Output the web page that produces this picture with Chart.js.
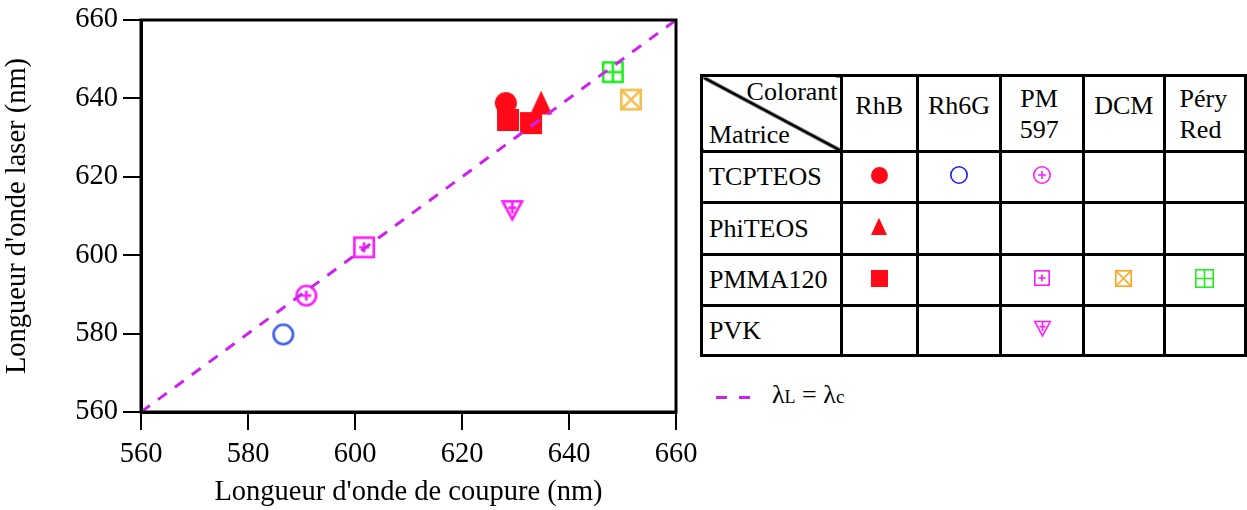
<!DOCTYPE html>
<html>
<head>
<meta charset="utf-8">
<script src="https://cdn.jsdelivr.net/npm/chart.js@4.4.1/dist/chart.umd.min.js"></script>
<style>
  html, body { margin: 0; padding: 0; background: #fff; }
  body { width: 1247px; height: 510px; position: relative; overflow: hidden;
         font-family: 'Liberation Serif', 'Times New Roman', serif; color: #000; }
  #chart { position: absolute; left: 0; top: 0; }
  #dyeTable { position: absolute; left: 700px; top: 74px; border-collapse: collapse;
              table-layout: fixed; font-size: 26px; }
  #dyeTable td { border: 3px solid #000; padding: 0; position: relative; }
  #dyeTable td.rowName { text-align: left; padding-left: 6px; vertical-align: middle; }
  #dyeTable td.mark { text-align: center; vertical-align: middle; }
  #dyeTable td.mark canvas { display: block; margin: -4px auto 0 auto; }
  #dyeTable td.head { vertical-align: top; text-align: center; line-height: 31px; }
  #legend { position: absolute; left: 716px; top: 377px; font-size: 26px; line-height: 36px; white-space: nowrap; }
  #legend .dash { display: inline-block; width: 11px; height: 3px; background: #d020f0;
                  vertical-align: middle; margin-right: 12px; }
</style>
</head>
<body>
<canvas id="chart" width="700" height="510"></canvas>
<table id="dyeTable"></table>
<div id="legend"><span class="dash"></span><span class="dash"></span><span style="margin-left:10px">λ<span style="font-size:18px">L</span> = λ<span style="font-size:19px">c</span></span></div>
<script>
// axis range
const axisMin = 560;
const axisMax = 660;
const axisStep = 20;

const dyes = ['RhB', 'Rh6G', 'PM 597', 'DCM', 'Péry Red'];
const matrices = ['TCPTEOS', 'PhiTEOS', 'PMMA120', 'PVK'];

// [cut-off wavelength, laser wavelength] in nm
const rhbTcpteos = [[628.2, 638.8]];
const rhbPhiteos = [[634.8, 638.7]];
const rhbPmma = [[628.6, 634.5], [632.9, 633.7]];
const rh6gTcpteos = [[586.6, 579.8]];
const pm597Tcpteos = [[590.9, 589.7]];
const pm597Pmma = [[601.7, 602.0]];
const pm597Pvk = [[629.4, 611.5]];
const dcmPmma = [[651.6, 639.7]];
const peryPmma = [[648.2, 646.7]];
const diagonal = [[560, 560], [660, 660]];

const series = [
  { dye: 'RhB', matrix: 'TCPTEOS', pts: rhbTcpteos, kind: 'disc', color: '#ff0a18', tcolor: '#ff0a18' },
  { dye: 'RhB', matrix: 'PhiTEOS', pts: rhbPhiteos, kind: 'tri', color: '#ff0a18', tcolor: '#ff0a18' },
  { dye: 'RhB', matrix: 'PMMA120', pts: rhbPmma, kind: 'sq', color: '#ff0a18', tcolor: '#ff0a18' },
  { dye: 'Rh6G', matrix: 'TCPTEOS', pts: rh6gTcpteos, kind: 'ring', color: '#3a5cec', tcolor: '#1a1aff' },
  { dye: 'PM 597', matrix: 'TCPTEOS', pts: pm597Tcpteos, kind: 'ringPlus', color: '#ff1aff', tcolor: '#ff1aff' },
  { dye: 'PM 597', matrix: 'PMMA120', pts: pm597Pmma, kind: 'sqPlus', color: '#ff1aff', tcolor: '#ff1aff' },
  { dye: 'PM 597', matrix: 'PVK', pts: pm597Pvk, kind: 'triDownPlus', color: '#ff1aff', tcolor: '#ff1aff' },
  { dye: 'DCM', matrix: 'PMMA120', pts: dcmPmma, kind: 'sqX', color: '#f6bd4e', tcolor: '#ffa51a' },
  { dye: 'Péry Red', matrix: 'PMMA120', pts: peryPmma, kind: 'sqGrid', color: '#22ee22', tcolor: '#22ee22' }
];

function drawMarker(ctx, kind, cx, cy, r, color, lw) {
  ctx.strokeStyle = color;
  ctx.fillStyle = color;
  ctx.lineWidth = lw;
  ctx.lineCap = 'butt';
  const plus = (x, y, a) => {
    ctx.beginPath();
    ctx.moveTo(x - a, y); ctx.lineTo(x + a, y);
    ctx.moveTo(x, y - a); ctx.lineTo(x, y + a);
    ctx.stroke();
  };
  const s = r - lw / 2;
  switch (kind) {
    case 'disc':
      ctx.beginPath(); ctx.arc(cx, cy, r, 0, Math.PI * 2); ctx.fill();
      break;
    case 'ring':
      ctx.beginPath(); ctx.arc(cx, cy, s, 0, Math.PI * 2); ctx.stroke();
      break;
    case 'ringPlus':
      ctx.beginPath(); ctx.arc(cx, cy, s, 0, Math.PI * 2); ctx.stroke();
      plus(cx, cy, r * 0.45);
      break;
    case 'tri':
      ctx.beginPath();
      ctx.moveTo(cx, cy - r * 1.15); ctx.lineTo(cx + r, cy + r * 1.0); ctx.lineTo(cx - r, cy + r * 1.0);
      ctx.closePath(); ctx.fill();
      break;
    case 'sq':
      ctx.fillRect(cx - r, cy - r, 2 * r, 2 * r);
      break;
    case 'sqPlus':
      ctx.strokeRect(cx - s, cy - s, 2 * s, 2 * s);
      plus(cx, cy, r * 0.45);
      break;
    case 'sqX':
      ctx.strokeRect(cx - s, cy - s, 2 * s, 2 * s);
      ctx.beginPath();
      ctx.moveTo(cx - s, cy - s); ctx.lineTo(cx + s, cy + s);
      ctx.moveTo(cx + s, cy - s); ctx.lineTo(cx - s, cy + s);
      ctx.stroke();
      break;
    case 'sqGrid':
      ctx.strokeRect(cx - s, cy - s, 2 * s, 2 * s);
      plus(cx, cy, s);
      break;
    case 'triDownPlus': {
      const top = cy - s * 0.9, bot = cy + s * 0.95;
      ctx.beginPath();
      ctx.moveTo(cx - s, top); ctx.lineTo(cx + s, top); ctx.lineTo(cx, bot);
      ctx.closePath(); ctx.stroke();
      ctx.beginPath();
      ctx.moveTo(cx, top); ctx.lineTo(cx, cy + s * 0.35);
      ctx.moveTo(cx - s * 0.4, cy - s * 0.25); ctx.lineTo(cx + s * 0.4, cy - s * 0.25);
      ctx.stroke();
      break;
    }
  }
}

function makeMarker(kind, color, size, lw) {
  const pad = Math.ceil(lw) + 1;
  const c = document.createElement('canvas');
  c.width = c.height = size + 2 * pad;
  drawMarker(c.getContext('2d'), kind, c.width / 2, c.height / 2, size / 2, color, lw);
  return c;
}

const serif = "'Liberation Serif', 'Times New Roman', serif";

const datasets = series.map(s => ({
  label: s.dye + ' / ' + s.matrix,
  data: s.pts.map(p => ({ x: p[0], y: p[1] })),
  pointStyle: makeMarker(s.kind, s.color, 22, 2.6),
  pointRadius: 11,
  order: 1
}));
datasets.push({
  type: 'line',
  label: 'λL = λc',
  data: diagonal.map(p => ({ x: p[0], y: p[1] })),
  borderColor: '#d020f0',
  borderWidth: 3,
  borderDash: [11, 10],
  pointRadius: 0,
  fill: false,
  order: 0
});

const frame = {
  id: 'frame',
  afterDraw(chart) {
    const a = chart.chartArea, ctx = chart.ctx;
    ctx.save();
    ctx.strokeStyle = '#000';
    ctx.lineWidth = 3;
    ctx.strokeRect(a.left, a.top, a.right - a.left, a.bottom - a.top);
    ctx.restore();
  }
};

function axis(titleText, fit, tickPad) {
  return {
    type: 'linear',
    min: axisMin,
    max: axisMax,
    ticks: { stepSize: axisStep, color: '#000', font: { family: serif, size: 28.5 }, padding: tickPad },
    grid: { drawOnChartArea: false, drawTicks: true, tickLength: 18, color: '#000', lineWidth: 2 },
    border: { display: true, color: '#000', width: 3 },
    title: { display: true, text: titleText, color: '#000', font: { family: serif, size: 28.5 }, padding: { top: 0, bottom: 0 } },
    afterFit: fit
  };
}

new Chart(document.getElementById('chart'), {
  type: 'scatter',
  data: { datasets },
  options: {
    responsive: false,
    animation: false,
    devicePixelRatio: 1,
    layout: { padding: { top: 20, right: 24, left: 0, bottom: 0 } },
    plugins: { legend: { display: false }, tooltip: { enabled: false } },
    scales: {
      x: axis("Longueur d'onde de coupure (nm)", s => {
        s.height = 98; s.paddingLeft = 0; s.paddingRight = 0;
      }, 7),
      y: axis("Longueur d'onde laser (nm)", s => {
        s.width = 141; s.paddingTop = 0; s.paddingBottom = 0;
      }, 5)
    }
  },
  plugins: [frame]
});

// table of dyes / matrices with their markers
const colWidths = [140, 77, 84, 84, 81, 82];
const rowHeights = [76, 51, 52, 51, 50];
const table = document.getElementById('dyeTable');
let html = '<colgroup>' + colWidths.map(w => '<col style="width:' + w + 'px">').join('') + '</colgroup>';
html += '<tr style="height:' + rowHeights[0] + 'px">';
html += '<td style="background:linear-gradient(to bottom left, transparent calc(50% - 2px), #000 calc(50% - 1.2px), #000 calc(50% + 1.2px), transparent calc(50% + 2px))">' +
        '<span style="position:absolute;right:2px;top:2px;line-height:26px">Colorant</span>' +
        '<span style="position:absolute;left:6px;bottom:0px;line-height:30px">Matrice</span></td>';
dyes.forEach(d => {
  const parts = d.split(' ');
  if (parts.length > 1) {
    const align = d === 'Péry Red' ? 'text-align:left;padding-left:14px;' : 'padding-right:6px;';
    html += '<td class="head" style="padding-top:6px;' + align + '">' + parts.join('<br>') + '</td>';
  } else {
    html += '<td class="head" style="padding-top:13px">' + d + '</td>';
  }
});
html += '</tr>';
matrices.forEach((m, i) => {
  html += '<tr style="height:' + rowHeights[i + 1] + 'px"><td class="rowName">' + m + '</td>';
  dyes.forEach((d, j) => html += '<td class="mark" id="cell-' + i + '-' + j + '"></td>');
  html += '</tr>';
});
table.innerHTML = html;

const tableSizes = { disc: 17, ring: 18, ringPlus: 18, tri: 16, sq: 17, sqPlus: 16, sqX: 17, sqGrid: 19, triDownPlus: 17 };
series.forEach(s => {
  const cell = document.getElementById('cell-' + matrices.indexOf(s.matrix) + '-' + dyes.indexOf(s.dye));
  if (cell && !cell.firstChild) cell.appendChild(makeMarker(s.kind, s.tcolor, tableSizes[s.kind], 1.6));
});
</script>
</body>
</html>
